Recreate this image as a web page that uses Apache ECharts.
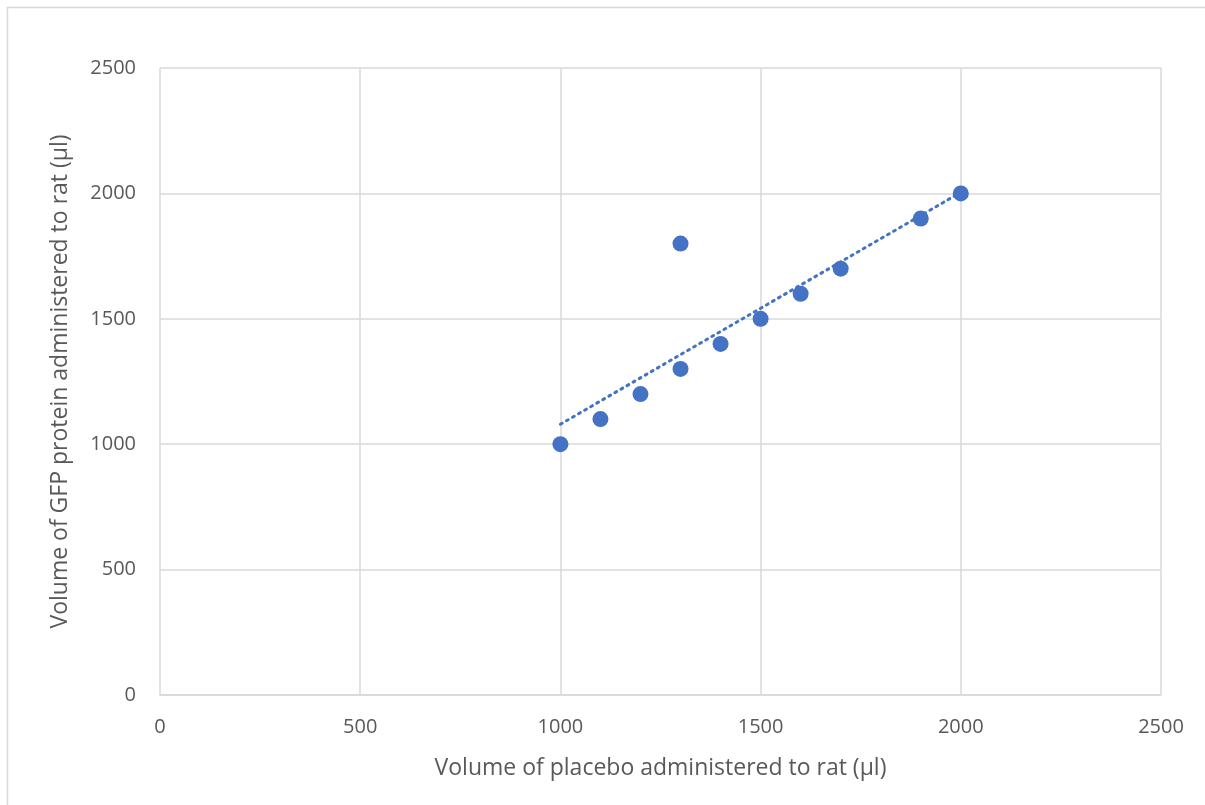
<!DOCTYPE html>
<html><head><meta charset="utf-8">
<script src="https://cdn.jsdelivr.net/npm/echarts@6/dist/echarts.min.js"></script>
<style>html,body{margin:0;padding:0;background:#fff;}#c{width:1205px;height:805px;}</style>
</head><body><div id="c"></div>
<script>
const placebo = [1000,1100,1200,1300,1300,1400,1500,1600,1700,1900,2000];
const gfp     = [1000,1100,1200,1300,1800,1400,1500,1600,1700,1900,2000];
const xTitle = 'Volume of placebo administered to rat (µl)';
const yTitle = 'Volume of GFP protein administered to rat (µl)';

const pts = placebo.map((x,i)=>[x,gfp[i]]);
// linear least-squares trendline
const n = placebo.length;
const mx = placebo.reduce((a,b)=>a+b,0)/n, my = gfp.reduce((a,b)=>a+b,0)/n;
let sxy=0,sxx=0; for(let i=0;i<n;i++){sxy+=(placebo[i]-mx)*(gfp[i]-my);sxx+=(placebo[i]-mx)**2;}
const slope=sxy/sxx, icpt=my-slope*mx;
const xmin=Math.min(...placebo), xmax=Math.max(...placebo);
const trend=[[xmin,icpt+slope*xmin],[xmax,icpt+slope*xmax]];

const font='"Open Sans", sans-serif';
const fmt=v=>String(v);
const chart = echarts.init(document.getElementById('c'));
chart.setOption({
  animation:false,
  graphic:[{type:'rect',shape:{x:7.5,y:7.5,width:1205,height:805},style:{fill:null,stroke:'#d9d9d9',lineWidth:1.5},z:-1}],
  grid:{left:160,top:68,right:44,bottom:110},
  xAxis:{type:'value',min:0,max:2500,interval:500,
    name:xTitle,nameLocation:'middle',nameGap:62,
    nameTextStyle:{fontFamily:font,fontSize:23,color:'#595959'},
    axisLine:{show:true,lineStyle:{color:'#d9d9d9',width:1.5}},axisTick:{show:false},
    axisLabel:{fontFamily:font,fontSize:20,color:'#595959',margin:22,formatter:fmt},
    splitLine:{show:true,lineStyle:{color:'#d9d9d9',width:1.5}}},
  yAxis:{type:'value',min:0,max:2500,interval:500,
    name:yTitle,nameLocation:'middle',nameGap:88,
    nameTextStyle:{fontFamily:font,fontSize:23,color:'#595959'},
    axisLine:{show:false},axisTick:{show:false},
    axisLabel:{fontFamily:font,fontSize:20,color:'#595959',margin:24,formatter:fmt},
    splitLine:{show:true,lineStyle:{color:'#d9d9d9',width:1.5}}},
  series:[
    {type:'line',data:trend,symbol:'none',lineStyle:{color:'#4472C4',width:3,type:[2,5],cap:'round'},z:2},
    {type:'scatter',data:pts,symbol:'circle',symbolSize:16,itemStyle:{color:'#4472C4',opacity:1},z:3}
  ]
});
</script></body></html>
